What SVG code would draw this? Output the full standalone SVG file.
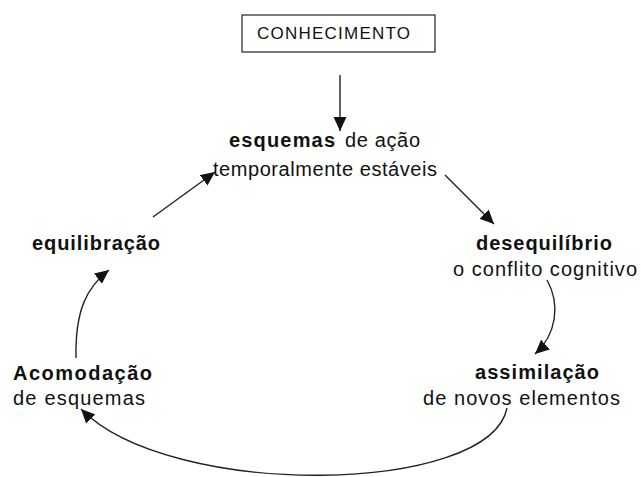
<svg xmlns="http://www.w3.org/2000/svg" width="641" height="477" viewBox="0 0 641 477">
<style>
text{font-family:"Liberation Sans",Arial,sans-serif;font-size:20px;fill:#111}
.b{font-weight:bold}
.c{fill:none;stroke:#222;stroke-width:1.4}
</style>
<defs>
<marker id="ah" markerUnits="userSpaceOnUse" markerWidth="16" markerHeight="14" refX="14" refY="6.5" orient="auto">
<path d="M0,0 L14,6.5 L0,13 z" fill="#111"/>
</marker>
</defs>
<rect width="641" height="477" fill="#fff"/>
<g id="conhecimento">
<rect x="242" y="15" width="193" height="37" fill="#fff" stroke="#333" stroke-width="1.3"/>
<text x="257" y="39" textLength="153" style="font-size:17px">CONHECIMENTO</text>
</g>
<g id="esquemas">
<text class="b" x="229" y="147" textLength="106">esquemas</text>
<text x="345" y="147" textLength="75">de ação</text>
<text x="213" y="176" textLength="224">temporalmente estáveis</text>
</g>
<g id="desequilibrio">
<text class="b" x="476" y="250" textLength="136">desequilíbrio</text>
<text x="453" y="276" textLength="184">o conflito cognitivo</text>
</g>
<g id="assimilacao">
<text class="b" x="475" y="379" textLength="124">assimilação</text>
<text x="423" y="405" textLength="197">de novos elementos</text>
</g>
<g id="acomodacao">
<text class="b" x="13" y="380" textLength="139">Acomodação</text>
<text x="13" y="405" textLength="132">de esquemas</text>
</g>
<g id="equilibracao">
<text class="b" x="32" y="250" textLength="128">equilibração</text>
</g>
<g id="connectors">
<path class="c" d="M340,75 L340,131" marker-end="url(#ah)"/>
<path class="c" d="M153,217 L215,172" marker-end="url(#ah)"/>
<path class="c" d="M445,175 L494,224" marker-end="url(#ah)"/>
<path class="c" d="M547,280 C561,305 556,335 535,354" marker-end="url(#ah)"/>
<path class="c" d="M507,408 C490,495 170,500 81,409" marker-end="url(#ah)"/>
<path class="c" d="M76,358 C75,310 87,287 109,270" marker-end="url(#ah)"/>
</g>
</svg>
